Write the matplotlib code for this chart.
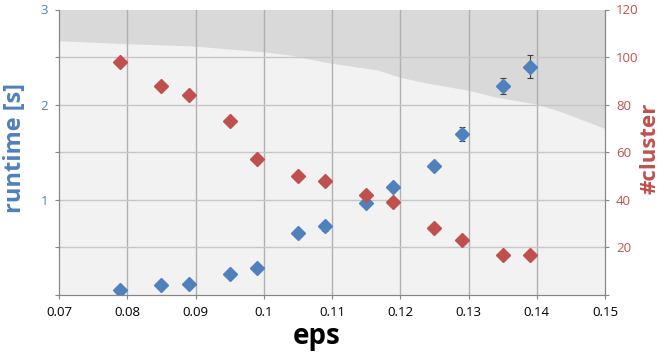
import matplotlib.pyplot as plt
from matplotlib.ticker import FixedLocator, FuncFormatter

# eps values shared by both series
eps = [0.079, 0.085, 0.089, 0.095, 0.099, 0.105, 0.109,
       0.115, 0.119, 0.125, 0.129, 0.135, 0.139]

# runtime [s] with error bars
runtime = [0.05, 0.105, 0.12, 0.22, 0.28, 0.65, 0.72,
           0.97, 1.13, 1.36, 1.69, 2.20, 2.40]
runtime_err = [0.01, 0.01, 0.01, 0.01, 0.01, 0.02, 0.05,
               0.02, 0.03, 0.02, 0.075, 0.085, 0.12]

# number of clusters
clusters = [98, 88, 84, 73, 57, 50, 48, 42, 39, 28, 23, 17, 17]

# boundary of the shaded band (in #cluster units)
band_x = [0.07, 0.08, 0.0896, 0.0999, 0.1038, 0.1097, 0.1167, 0.1198,
          0.1239, 0.1299, 0.1342, 0.140, 0.1434, 0.15]
band_y = [106.9, 105.6, 104.7, 102.2, 100.9, 97.5, 94.6, 91.6,
          89.1, 86.1, 83.1, 80.2, 77.2, 70.0]

blue = '#4F81BD'
red = '#C0504D'
spine_col = '#868686'

plt.rcParams['font.family'] = ['Open Sans', 'DejaVu Sans']

fig = plt.figure(figsize=(6.65, 3.54), dpi=100)
ax = fig.add_axes([59 / 665, 1 - 295 / 354, 546 / 665, 285.5 / 354])
ax2 = ax.twinx()

ax.set_xlim(0.07, 0.15)
ax.set_ylim(0, 3)
ax2.set_ylim(0, 120)

# background: light area with darker band on top
ax.set_facecolor('#F2F2F2')
ax.fill_between(band_x, [v / 40 for v in band_y], 3,
                color='#D9D9D9', lw=0, zorder=0)

# grid
for xv in [0.08, 0.09, 0.10, 0.11, 0.12, 0.13, 0.14]:
    ax.axvline(xv, color='#B0B0B0', lw=1, zorder=1)
for yv in [0.5, 1, 1.5, 2, 2.5]:
    ax.axhline(yv, color='#C6C6C6', lw=1, zorder=1)

# runtime series
ax.errorbar(eps, runtime, yerr=runtime_err, fmt='D', color=blue, ms=7,
            ecolor='#404040', elinewidth=0.8, capsize=2, capthick=0.8,
            zorder=3)

# cluster series
ax2.plot(eps, clusters, 'D', color=red, ms=7, zorder=3)

# ticks
ax.set_xticks([0.07, 0.08, 0.09, 0.10, 0.11, 0.12, 0.13, 0.14, 0.15])
ax.xaxis.set_major_formatter(FuncFormatter(lambda v, p: f'{v:g}'))
ax.yaxis.set_major_locator(FixedLocator([0, 0.5, 1, 1.5, 2, 2.5, 3]))
ax.yaxis.set_major_formatter(
    FuncFormatter(lambda v, p: f'{int(v)}' if v in (1, 2, 3) else ''))
ax2.yaxis.set_major_locator(FixedLocator([0, 20, 40, 60, 80, 100, 120]))
ax2.yaxis.set_major_formatter(
    FuncFormatter(lambda v, p: f'{int(v)}' if v > 0 else ''))

ax.tick_params(axis='x', colors=spine_col, labelcolor='black',
               labelsize=9.5, length=3, pad=5)
ax.tick_params(axis='y', colors=spine_col, labelcolor=blue,
               labelsize=9.5, length=3, pad=5)
ax2.tick_params(axis='y', colors=spine_col, labelcolor=red,
                labelsize=9.5, length=3, pad=5)

for a in (ax, ax2):
    a.spines['top'].set_visible(False)
    for s in ('left', 'right', 'bottom'):
        a.spines[s].set_color(spine_col)
    a.spines['right'].set_zorder(5)

# labels
ax.set_xlabel('eps', fontsize=20, fontweight='bold')
ax.xaxis.set_label_coords((317 - 59) / 546, -0.095)
ax.set_ylabel('runtime [s]', fontsize=17, fontweight='bold', color=blue)
ax.yaxis.set_label_coords((27 - 59) / 546, 0.515)
ax2.set_ylabel('#cluster', fontsize=16, fontweight='bold', color=red)
ax2.yaxis.set_label_coords((640 - 59) / 546, 0.515)

fig.savefig('out.png', dpi=100)
